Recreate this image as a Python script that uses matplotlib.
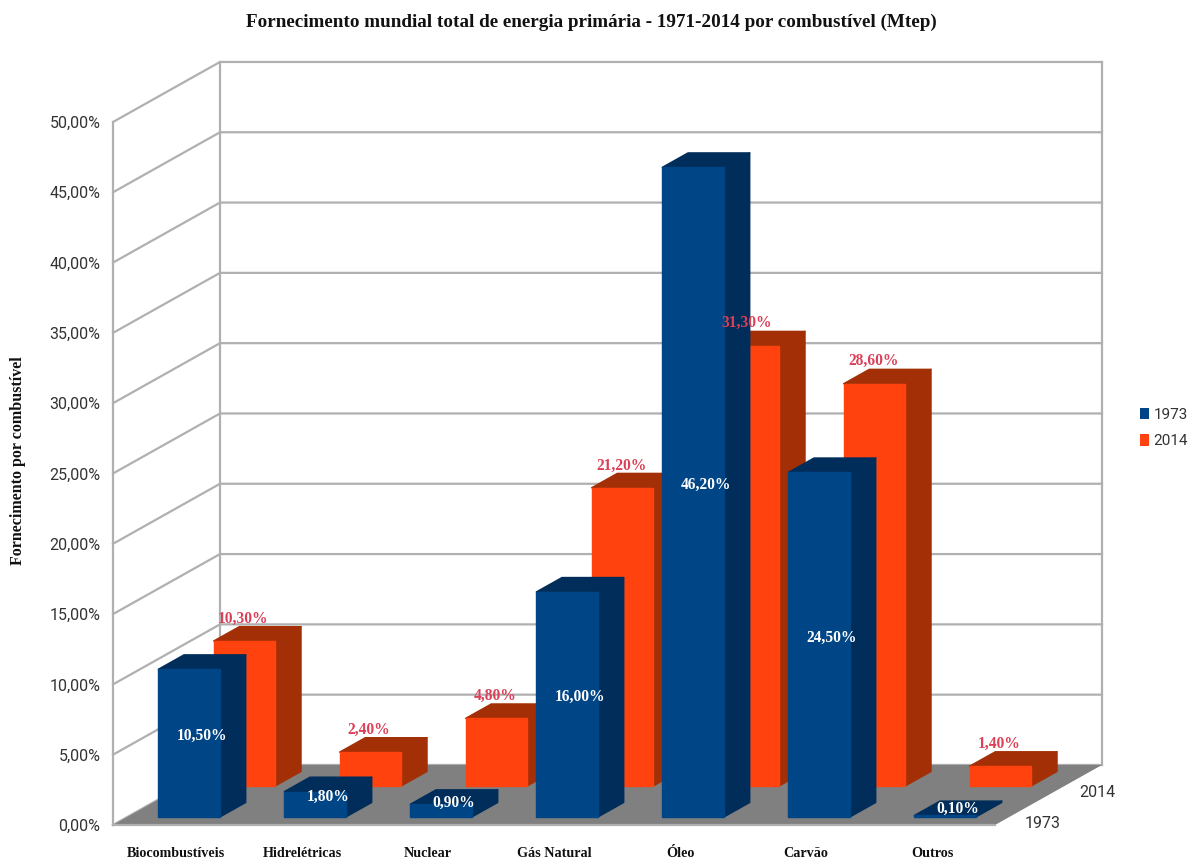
import matplotlib
matplotlib.use("Agg")
import matplotlib.pyplot as plt
from matplotlib.patches import Patch, Polygon

categorias = ["Biocombustíveis", "Hidrelétricas", "Nuclear", "Gás Natural", "Óleo", "Carvão", "Outros"]
valores_1973 = [10.5, 1.8, 0.9, 16.0, 46.2, 24.5, 0.1]
valores_2014 = [10.3, 2.4, 4.8, 21.2, 31.3, 28.6, 1.4]
ticks_y = [0, 5, 10, 15, 20, 25, 30, 35, 40, 45, 50]
series = ["1973", "2014"]

SERIF = "Liberation Serif"
SANS = "Roboto"
GRADE = "#b0b0b0"

# profundidade obliqua: quanto o fundo do grafico desloca em x (categorias) e y (%)
DX = 0.849
DY = 4.27


def proj(c, v, z):
    return c + DX * z, v + DY * z


def caixa(ax, c, largura, v, z0, z1, cor, escura, ordem):
    # frente, lado direito e topo de uma barra
    frente = [proj(c, 0, z0), proj(c + largura, 0, z0), proj(c + largura, v, z0), proj(c, v, z0)]
    lado = [proj(c + largura, 0, z0), proj(c + largura, 0, z1), proj(c + largura, v, z1), proj(c + largura, v, z0)]
    topo = [proj(c, v, z0), proj(c + largura, v, z0), proj(c + largura, v, z1), proj(c, v, z1)]
    for pts, fc in ((lado, escura), (topo, escura), (frente, cor)):
        ax.add_patch(Polygon(pts, closed=True, fc=fc, ec=fc, lw=1, joinstyle="round",
                             zorder=ordem, clip_on=False))


fig = plt.figure(figsize=(11.93, 8.61), dpi=100)
ax = fig.add_axes([113 / 1193, 1 - 825 / 861, (995 - 113) / 1193, (825 - 122) / 861])
ax.set_xlim(0, 7)
ax.set_ylim(0, 50)
for s in ax.spines.values():
    s.set_visible(False)
ax.patch.set_visible(False)

# paredes e piso
chao = [proj(0, 0, 0), proj(7, 0, 0), proj(7, 0, 1), proj(0, 0, 1)]
ax.add_patch(Polygon(chao, closed=True, fc="#808080", ec="none", zorder=1, clip_on=False))
for t in ticks_y:
    xs, ys = zip(proj(0, t, 0), proj(0, t, 1), proj(7, t, 1))
    ax.plot(xs, ys, color=GRADE, lw=1.6, zorder=0.5, clip_on=False)
for c, z in ((0, 0), (0, 1), (7, 1)):
    xs, ys = zip(proj(c, 0, z), proj(c, 50, z))
    ax.plot(xs, ys, color=GRADE, lw=1.6, zorder=0.5, clip_on=False)
xs, ys = zip(proj(0, 0, 0), proj(7, 0, 0))
ax.plot(xs, ys, color=GRADE, lw=1.6, zorder=1.5, clip_on=False)

# barras: a fileira de 2014 fica atras da de 1973
MARGEM = 0.245
LARG = 0.49
Z_1973 = (0.135, 0.375)
Z_2014 = (0.652, 0.892)
for i, v in enumerate(valores_2014):
    caixa(ax, i + MARGEM, LARG, v, Z_2014[0], Z_2014[1], "#ff420e", "#a32f06", 2 + i * 0.01)
for i, v in enumerate(valores_1973):
    caixa(ax, i + MARGEM, LARG, v, Z_1973[0], Z_1973[1], "#004586", "#002d5a", 3 + i * 0.01)

# rotulos de valor
for i, v in enumerate(valores_1973):
    x, y = proj(i + MARGEM + LARG / 2, v / 2, sum(Z_1973) / 2)
    ax.text(x, y, f"{v:.2f}%".replace(".", ","), color="white", ha="center", va="center",
            family=SERIF, weight="bold", fontsize=11.2, zorder=5)
for i, v in enumerate(valores_2014):
    x, y = proj(i + MARGEM + LARG / 2, v, Z_2014[1])
    ax.annotate(f"{v:.2f}%".replace(".", ","), (x, y), xytext=(-27, 0), textcoords="offset pixels",
                color="#dc4058", ha="center", va="bottom", family=SERIF, weight="bold",
                fontsize=11.2, zorder=5, annotation_clip=False)

# eixos
ax.set_xticks([i + 0.5 for i in range(7)], categorias)
ax.set_yticks(ticks_y, [f"{t:.2f}%".replace(".", ",") for t in ticks_y])
ax.tick_params(axis="x", length=0, pad=16)
ax.tick_params(axis="y", length=0, pad=9)
for lb in ax.get_xticklabels():
    lb.set(family=SERIF, weight="bold", fontsize=10.2, color="#111111")
for lb in ax.get_yticklabels():
    lb.set(family=SANS, fontsize=11.5, color="#333333")

# nomes das series na profundidade
for nome, zs in zip(series, (Z_1973, Z_2014)):
    ax.annotate(nome, proj(7, 0, sum(zs) / 2), xytext=(2, -14), textcoords="offset pixels",
                ha="left", va="center", family=SANS, fontsize=11.5, color="#333333",
                annotation_clip=False)

fig.text(591 / 1193, 1 - 22 / 861, "Fornecimento mundial total de energia primária - 1971-2014 por combustível (Mtep)",
         ha="center", va="center", family=SERIF, weight="bold", fontsize=13.8, color="#111111")
fig.text(18 / 1193, 1 - 461 / 861, "Fornecimento por combustível", rotation=90, ha="center", va="center",
         family=SERIF, weight="bold", fontsize=11.5, color="#111111")

fig.legend(handles=[Patch(fc="#004586", label=series[0]), Patch(fc="#ff420e", label=series[1])],
           loc="center left", bbox_to_anchor=(1126 / 1193, 1 - 428 / 861), frameon=False,
           prop={"family": SANS, "size": 11}, labelcolor="#333333",
           handlelength=0.6, handleheight=0.8, handletextpad=0.3, labelspacing=0.8)

fig.savefig("out.png", dpi=100)
